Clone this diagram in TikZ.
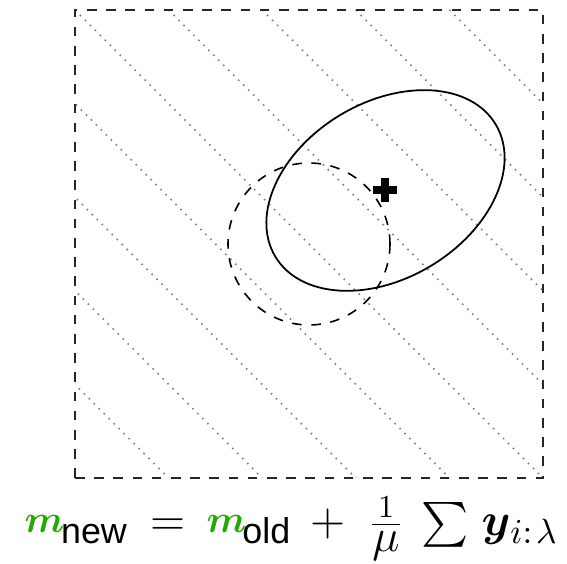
\documentclass[tikz,border=0pt]{standalone}
\usepackage{amsmath,amssymb,bm}
\usepackage{fontspec}
\newfontfamily\subsf{Liberation Sans}
\definecolor{mgreen}{RGB}{34,170,0}
\newcommand{\smallmath}[1]{\mbox{\fontsize{11.2}{13}\selectfont$#1$}}
\newcommand{\subtxt}[1]{\mbox{\fontsize{11.2}{13}\selectfont\subsf #1}}
\newcommand{\greenm}{\raisebox{1.2pt}{\textcolor{mgreen}{\mbox{\fontsize{12.3}{14}\selectfont$\bm{m}$}}}}
\begin{document}
\begin{tikzpicture}[x=0.3125pt,y=0.3125pt,
  boxline/.style={dashed,line width=0.45pt,black!85},
  hatchline/.style={gray,line width=0.5pt,dash pattern=on 0.5pt off 1.7pt},
  circline/.style={dashed,line width=0.5pt},
  ellline/.style={line width=0.55pt}]
\useasboundingbox (0,0) rectangle (567,564);
\coordinate (bl) at (75,86);
\coordinate (tr) at (543,554);
\begin{scope}
\clip (bl) rectangle (tr);
\foreach \k in {-4,...,4}{
  \draw[hatchline] ({75+\k*93.6-20},574) -- ++(560,-560);
}
\end{scope}
\draw[boxline] (bl) rectangle (tr);
\node[circle,draw,circline,minimum size=162*0.3125pt,inner sep=0pt] (c) at (309,320) {};
\draw[ellline,rotate around={31:(385.5,373.5)}] (385.5,373.5) ellipse [x radius=128.5, y radius=88];
\coordinate (p) at (385.5,373.5);
\fill (p) ++(-12,-4) rectangle ++(24,8);
\fill (p) ++(-4,-12) rectangle ++(8,24);
\node[anchor=base west,inner sep=0pt] (f) at (24,28) {\fontsize{14}{16}\selectfont
\makebox[11.4pt][l]{\greenm}%
\makebox[27.8pt][l]{\raisebox{-2.2pt}{\subtxt{new}}}%
\makebox[17.66pt][l]{$=$}%
\makebox[11.2pt][l]{\greenm}%
\makebox[21.15pt][l]{\raisebox{-2.2pt}{\subtxt{old}}}%
\makebox[18.28pt][l]{$+$}%
\makebox[16.41pt][l]{$\frac{1}{\textstyle\mu}$}%
\makebox[18.9pt][l]{$\sum$}%
$\bm{y}$\raisebox{-2.2pt}{\smallmath{i{:}\mkern2mu\lambda}}};
\end{tikzpicture}
\end{document}
